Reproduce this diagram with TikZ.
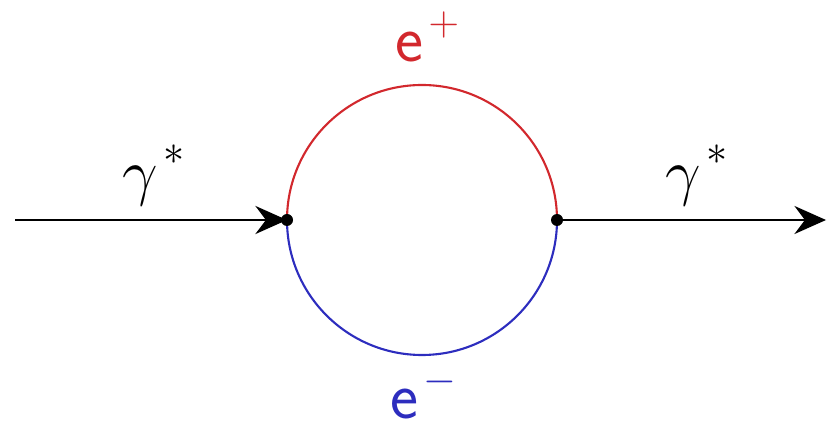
\RequirePackage{fix-cm}
\documentclass[tikz,border=0pt]{standalone}
\usepackage{fontspec}
\usetikzlibrary{arrows.meta}
\definecolor{posred}{RGB}{210,40,45}
\definecolor{eleblue}{RGB}{45,45,190}
\newcommand{\upsym}[2]{\kern3pt\raisebox{#1}{\fontsize{24}{28}\selectfont$#2$}}
\begin{document}
\begin{tikzpicture}[every node/.style={inner sep=0pt, anchor=base west},
  photon/.style={line width=1.2pt, -{Stealth[length=18pt, width=16pt, inset=6pt]}},
  lepton/.style={line width=1.2pt},
  gam/.style={font=\fontsize{36}{40}\selectfont},
  lep/.style={font=\fontsize{38}{42}\selectfont\sffamily}]
\useasboundingbox (0,0) rectangle (16.58,8.58);
% vertices and free ends
\coordinate (v1) at (5.74,4.18);
\coordinate (v2) at (11.14,4.18);
\coordinate (in) at (0.3,4.18);
\coordinate (out) at (16.52,4.18);
% photon lines
\draw[photon] (in) -- (v1);
\draw[photon] (v2) -- (out);
% electron loop
\draw[lepton, posred] (v1) arc (180:0:2.7);
\draw[lepton, eleblue] (v1) arc (180:360:2.7);
\foreach \v in {v1,v2} \fill (\v) circle (0.12);
% labels
\node[gam] (gin) at (2.45,4.7) {$\gamma$\upsym{17pt}{*}};
\node[gam] (gout) at (13.3,4.7) {$\gamma$\upsym{17pt}{*}};
\node[lep, text=posred] (ep) at (7.9,7.34) {e\upsym{15pt}{+}};
\node[lep, text=eleblue] (em) at (7.8,0.2) {e\upsym{15pt}{-}};
\end{tikzpicture}
\end{document}
